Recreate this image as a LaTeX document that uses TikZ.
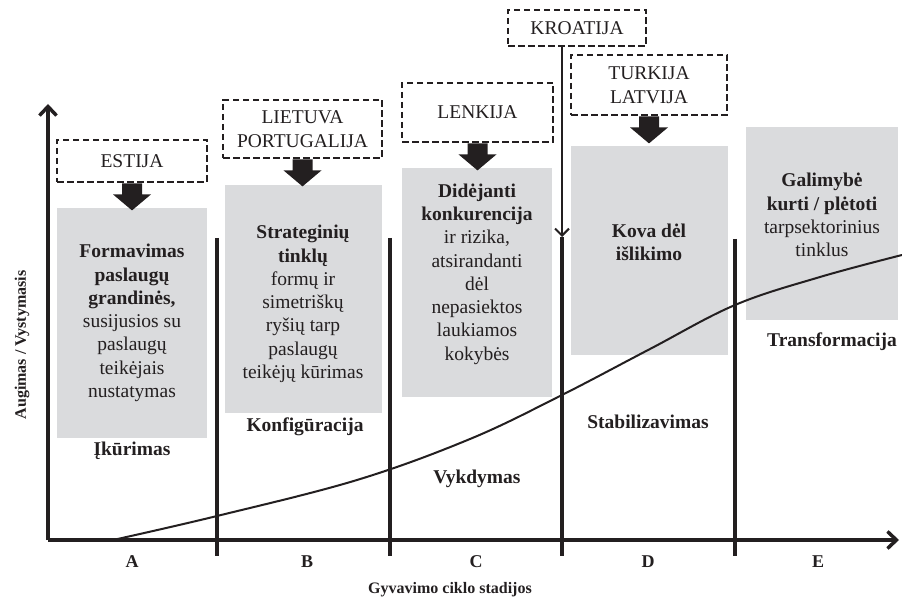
\documentclass[tikz,border=0pt]{standalone}
\usepackage{fontspec}
\setmainfont{Liberation Serif}
\usetikzlibrary{arrows.meta}
\definecolor{boxgray}{RGB}{218,219,221}
\definecolor{ink}{RGB}{35,31,32}
\begin{document}
\begin{tikzpicture}[x=1pt,y=-1pt,
  country/.style={draw=ink, line width=2.8pt, dash pattern=on 6.5pt off 3.5pt, align=center,
    font=\fontsize{19.5}{24}\selectfont, text=ink, inner sep=0pt},
  graybox/.style={fill=boxgray, draw=none, inner sep=0pt},
  gtext/.style={align=center, font=\fontsize{19.5}{23.3}\selectfont, text=ink, inner sep=0pt},
  stagelab/.style={font=\fontsize{19.5}{23}\selectfont\bfseries, text=ink, inner sep=0pt},
  axlab/.style={font=\fontsize{16}{20}\selectfont\bfseries, text=ink, inner sep=0pt},
  letlab/.style={font=\fontsize{18}{20}\selectfont\bfseries, text=ink, inner sep=0pt},
  axisline/.style={draw=ink, line width=4pt, -{Straight Barb[length=9pt,width=17pt,line width=3.5pt]}},
  divider/.style={draw=ink, line width=3.2pt},
  curveline/.style={draw=ink, line width=2pt},
  blockarr/.pic={\fill[ink] (-10,0) -- (10,0) -- (10,11) -- (19,11) -- (0,27) -- (-19,11) -- (-10,11) -- cycle;}
]
\useasboundingbox (0,0) rectangle (902,601);

% gray boxes
\node[graybox, minimum width=150pt, minimum height=230pt] (gA) at (132,323) {};
\node[graybox, minimum width=157pt, minimum height=228pt] (gB) at (303.5,299) {};
\node[graybox, minimum width=150pt, minimum height=229pt] (gC) at (477,282.5) {};
\node[graybox, minimum width=157pt, minimum height=209pt] (gD) at (649.5,250.5) {};
\node[graybox, minimum width=152pt, minimum height=193pt] (gE) at (822,223.5) {};

% texts in gray boxes
\node[gtext] (tA) at (132,323) {\textbf{Formavimas}\\\textbf{paslaugų}\\\textbf{grandinės,}\\susijusios su\\paslaugų\\teikėjais\\nustatymas};
\node[gtext] (tB) at (303,304) {\textbf{Strateginių}\\\textbf{tinklų}\\formų ir\\simetriškų\\ryšių tarp\\paslaugų\\teikėjų kūrimas};
\node[gtext] (tC) at (477,274) {\textbf{Didėjanti}\\\textbf{konkurencija}\\ir rizika,\\atsirandanti\\dėl\\nepasiektos\\laukiamos\\kokybės};
\node[gtext] (tD) at (649,242) {\textbf{Kova dėl}\\\textbf{išlikimo}};
\node[gtext] (tE) at (822,215) {\textbf{Galimybė}\\\textbf{kurti / plėtoti}\\tarpsektorinius\\tinklus};

% country boxes
\node[country, minimum width=150pt, minimum height=42pt] (estija) at (132,161) {ESTIJA};
\node[country, minimum width=159pt, minimum height=58pt] (lietuva) at (302.5,129) {LIETUVA\\PORTUGALIJA};
\node[country, minimum width=151pt, minimum height=59pt] (lenkija) at (477.5,112.5) {LENKIJA};
\node[country, minimum width=138pt, minimum height=36pt] (kroatija) at (577,28) {KROATIJA};
\node[country, minimum width=156pt, minimum height=60pt] (turkija) at (649,85) {TURKIJA\\LATVIJA};

% block arrows
\pic at (estija.south) {blockarr};
\pic at (lietuva.south) {blockarr};
\pic at (lenkija.south) {blockarr};
\pic at (turkija.south) {blockarr};

% axes
\coordinate (O) at (48,540);
\coordinate (Ytop) at (48,104);
\coordinate (Xend) at (899,540);
\draw[axisline] (O) -- (Ytop);
\draw[axisline] (O) -- (Xend);

% dividers
\coordinate (d1t) at (217,238); \coordinate (d1b) at (217,556);
\coordinate (d2t) at (390,238); \coordinate (d2b) at (390,556);
\coordinate (d3t) at (562,237); \coordinate (d3b) at (562,556);
\coordinate (d4t) at (735,239); \coordinate (d4b) at (735,556);
\draw[divider] (d1t) -- (d1b);
\draw[divider] (d2t) -- (d2b);
\draw[divider] (d3t) -- (d3b);
\draw[divider] (d4t) -- (d4b);
\draw[draw=ink, line width=2pt, -{Straight Barb[length=7pt,width=14pt,line width=2pt]}] (kroatija.south -| d3t) -- (d3t);

% curve
\draw[curveline] plot[smooth, tension=0.6] coordinates {(113,540) (217,516) (357,480) (470,439) (560,396) (650,349) (735,305) (820,277) (902,255)};

% stage labels
\node[stagelab] (s1) at (132,451) {Įkūrimas};
\node[stagelab] (s2) at (305,427) {Konfigūracija};
\node[stagelab] (s3) at (477,479) {Vykdymas};
\node[stagelab] (s4) at (648,422) {Stabilizavimas};
\node[stagelab] (s5) at (832,342) {Transformacija};

% letters
\node[letlab] (lA) at (132,562) {A};
\node[letlab] (lB) at (307,562) {B};
\node[letlab] (lC) at (476,562) {C};
\node[letlab] (lD) at (648,562) {D};
\node[letlab] (lE) at (818,562) {E};

\node[axlab] (xt) at (450,590) {Gyvavimo ciklo stadijos};
\node[axlab, rotate=90] (yt) at (22,345) {Augimas / Vystymasis};
\end{tikzpicture}
\end{document}
